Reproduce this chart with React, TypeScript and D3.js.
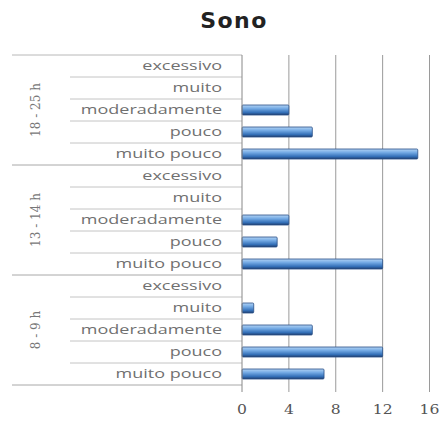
import React from "react";
import * as d3 from "d3";

const groups = ["18 - 25 h", "13 - 14 h", "8 - 9 h"];
const levels = ["excessivo", "muito", "moderadamente", "pouco", "muito pouco"];
const values: number[][] = [
  [0, 0, 4, 6, 15],
  [0, 0, 4, 3, 12],
  [0, 1, 6, 12, 7],
];
const xTicks = [0, 4, 8, 12, 16];

export default function App() {
  const W = 441, H = 421;
  const x0 = 242, x1 = 429.5, top = 55, bottom = 385;
  const x = d3.scaleLinear().domain([0, 16]).range([x0, x1]);
  const rows = groups.flatMap((g, gi) => levels.map((l, li) => ({ g, gi, l, li, v: values[gi][li], key: `${gi}-${li}` })));
  const y = d3.scaleBand<string>().domain(rows.map(r => r.key)).range([top, bottom]);
  const bh = 10;
  return (
    <svg width={W} height={H} style={{ position: "absolute", left: 0, top: 0 }}>
      <defs>
        <linearGradient id="bg" x1="0" y1="0" x2="0" y2="1">
          <stop offset="0" stopColor="#b3d4f5" />
          <stop offset="0.35" stopColor="#74aae4" />
          <stop offset="0.75" stopColor="#3470b8" />
          <stop offset="1" stopColor="#1f3f70" />
        </linearGradient>
      </defs>
      <rect width={W} height={H} fill="#fff" />
      <text x={234} y={28} textAnchor="middle" fontFamily="'DejaVu Sans', sans-serif" fontWeight="bold" fontSize={22} letterSpacing={1.5} fill="#222">Sono</text>
      {xTicks.slice(1).map(t => (
        <line key={t} x1={x(t)} x2={x(t)} y1={top} y2={392} stroke="#9a9a9a" strokeWidth={1} />
      ))}
      <line x1={12} x2={x0} y1={top} y2={top} stroke="#b8b8b8" />
      {rows.map(r => {
        const yy = y(r.key)!;
        const last = r.li === levels.length - 1;
        return (
          <g key={r.key}>
            {last ? (
              <line x1={12} x2={x0} y1={yy + y.bandwidth()} y2={yy + y.bandwidth()} stroke="#a8a8a8" />
            ) : (
              <line x1={70} x2={x0} y1={yy + y.bandwidth()} y2={yy + y.bandwidth()} stroke="#c4c4c4" />
            )}
            <text transform={`translate(222,${yy + y.bandwidth() / 2 + 4}) scale(1.5,1)`} textAnchor="end" fontFamily="'Open Sans', sans-serif" fontSize={12} fill="#707070">{r.l}</text>
            {r.v > 0 && (
              <rect x={x(0)} y={yy + (y.bandwidth() - bh) / 2} width={x(r.v) - x(0)} height={bh} fill="url(#bg)" stroke="#2a4f86" strokeWidth={0.8} rx={1} />
            )}
          </g>
        );
      })}
      {groups.map((g, gi) => {
        const ys = y(`${gi}-0`)!;
        const ye = y(`${gi}-${levels.length - 1}`)! + y.bandwidth();
        const cy = (ys + ye) / 2;
        return (
          <text key={g} transform={`translate(40,${cy}) rotate(-90)`} textAnchor="middle" fontFamily="'DejaVu Serif', serif" fontSize={12} fill="#777">{g}</text>
        );
      })}
      <line x1={x0} x2={x0} y1={top} y2={392} stroke="#888" />
      {xTicks.map(t => (
        <text key={t} transform={`translate(${x(t)},414) scale(1.3,1)`} textAnchor="middle" fontFamily="'DejaVu Serif', serif" fontSize={12} fill="#555">{t}</text>
      ))}
    </svg>
  );
}
